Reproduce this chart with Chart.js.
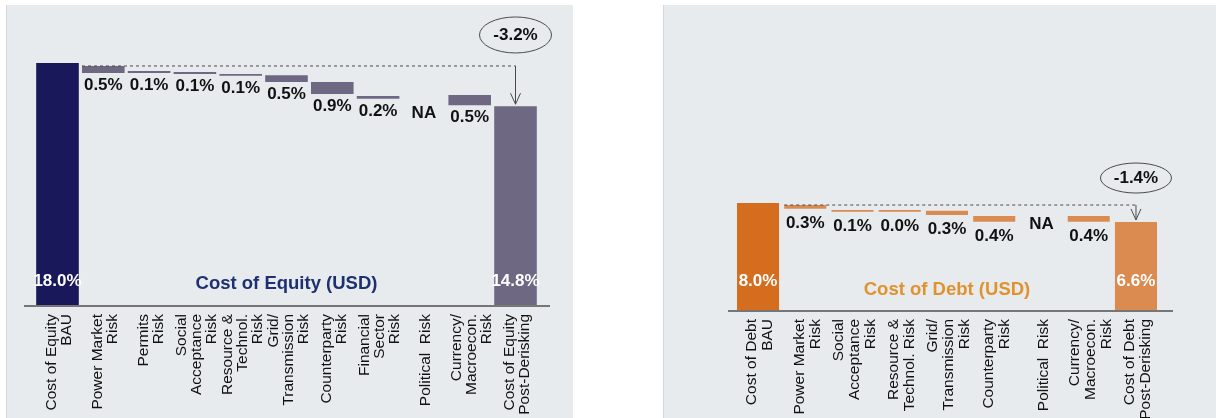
<!DOCTYPE html>
<html>
<head>
<meta charset="utf-8">
<script src="https://cdn.jsdelivr.net/npm/chart.js@4.4.1/dist/chart.umd.min.js"></script>
<style>
html, body { margin: 0; padding: 0; background: #fff; width: 1216px; height: 418px; overflow: hidden; position: relative; }
.panel { position: absolute; top: 5px; height: 413px; background: #e8ebed; border-left: 1px solid #d3d7da; }
#p1 { left: 6px; width: 566px; }
#p2 { left: 663px; width: 553px; }
.box { position: absolute; top: 0; height: 418px; }
#b1 { left: 0; width: 580px; }
#b2 { left: 663px; width: 553px; }
</style>
</head>
<body>
<div class="panel" id="p1"></div>
<div class="panel" id="p2"></div>
<div class="box" id="b1"><canvas id="equityChart"></canvas></div>
<div class="box" id="b2"><canvas id="debtChart"></canvas></div>
<script>
// cost of equity waterfall
const equityCategories = [
    ['Cost of Equity', 'BAU'],
    ['Power Market', 'Risk'],
    ['Permits', 'Risk'],
    ['Social', 'Acceptance', 'Risk'],
    ['Resource &', 'Technol.', 'Risk'],
    ['Grid/', 'Transmission', 'Risk'],
    ['Counterparty', 'Risk'],
    ['Financial', 'Sector', 'Risk'],
    'Political  Risk',
    ['Currency/', 'Macroecon.', 'Risk'],
    ['Cost of Equity', 'Post-Derisking']
];
const equityLow  = [0, 17.26, 17.26, 17.19, 17.06, 16.59, 15.70, 15.36, 15.19, 14.87, 0];
const equityHigh = [18.0, 17.78, 17.41, 17.33, 17.19, 17.09, 16.59, 15.56, 15.19, 15.63, 14.8];
const equityText = ['18.0%', '0.5%', '0.1%', '0.1%', '0.1%', '0.5%', '0.9%', '0.2%', 'NA', '0.5%', '14.8%'];

// cost of debt waterfall
const debtCategories = [
    ['Cost of Debt', 'BAU'],
    ['Power Market', 'Risk'],
    ['Social', 'Acceptance', 'Risk'],
    ['Resource &', 'Technol. Risk'],
    ['Grid/', 'Transmission', 'Risk'],
    ['Counterparty', 'Risk'],
    'Political  Risk',
    ['Currency/', 'Macroecon.', 'Risk'],
    ['Cost of Debt', 'Post-Derisking']
];
const debtLow  = [0, 7.58, 7.36, 7.36, 7.11, 6.61, 7.48, 6.61, 0];
const debtHigh = [8.0, 7.85, 7.48, 7.48, 7.43, 7.04, 7.48, 7.04, 6.6];
const debtText = ['8.0%', '0.3%', '0.1%', '0.0%', '0.3%', '0.4%', 'NA', '0.4%', '6.6%'];

const FONT = '"Liberation Sans", Arial, sans-serif';
Chart.defaults.font.family = FONT;

function waterfallPlugin(o) {
    return {
        id: 'waterfallDecor',
        afterDatasetsDraw(chart) {
            const ctx = chart.ctx;
            const bars = chart.getDatasetMeta(0).data;
            const xs = chart.scales.x;
            const ys = chart.scales.y;
            const y0 = ys.getPixelForValue(0);
            const last = bars.length - 1;

            ctx.save();

            // axis line
            ctx.strokeStyle = '#767676';
            ctx.lineWidth = 2;
            ctx.beginPath();
            ctx.moveTo(o.axisFrom, y0);
            ctx.lineTo(o.axisTo, y0);
            ctx.stroke();

            // dashed reference + arrow
            const yd = ys.getPixelForValue(o.high[1]);
            const xStart = bars[1].x - bars[1].width / 2;
            const xEnd = bars[last].x;
            const yTop = Math.min(bars[last].y, bars[last].base);
            ctx.strokeStyle = '#4a4a4a';
            ctx.lineWidth = 1;
            ctx.setLineDash([3, 3]);
            ctx.beginPath();
            ctx.moveTo(xStart, yd);
            ctx.lineTo(xEnd, yd);
            ctx.stroke();
            ctx.setLineDash([]);
            ctx.beginPath();
            ctx.moveTo(xEnd, yd);
            ctx.lineTo(xEnd, yTop - 2);
            ctx.moveTo(xEnd - 5, yTop - 13);
            ctx.lineTo(xEnd, yTop - 2);
            ctx.lineTo(xEnd + 5, yTop - 13);
            ctx.stroke();

            // delta ellipse
            const ey = yd - o.ellipseUp;
            ctx.beginPath();
            ctx.ellipse(xEnd, ey, o.rx, o.ry, 0, 0, Math.PI * 2);
            ctx.strokeStyle = '#4a4a4a';
            ctx.stroke();
            const delta = (o.high[last] - o.high[0]).toFixed(1) + '%';
            ctx.fillStyle = '#111';
            ctx.font = 'bold 17px ' + FONT;
            ctx.textAlign = 'center';
            ctx.textBaseline = 'middle';
            ctx.fillText(delta, xEnd, ey);

            // value labels
            bars.forEach((bar, i) => {
                if (i === 0 || i === last) {
                    ctx.fillStyle = '#fff';
                    ctx.textBaseline = 'middle';
                    ctx.fillText(o.text[i], bar.x, y0 - o.totalUp);
                } else {
                    const bottom = Math.max(bar.y, bar.base);
                    ctx.fillStyle = '#111';
                    ctx.textBaseline = 'alphabetic';
                    ctx.fillText(o.text[i], bar.x, bottom + o.labelDown);
                }
            });

            // title
            ctx.font = 'bold 18.5px ' + FONT;
            ctx.fillStyle = o.titleColor;
            ctx.textBaseline = 'middle';
            const area = chart.chartArea;
            ctx.fillText(o.title, (area.left + area.right) / 2, y0 - o.titleUp);

            // category labels, rotated
            ctx.font = '15.5px ' + FONT;
            ctx.fillStyle = '#111';
            ctx.textAlign = 'right';
            ctx.textBaseline = 'middle';
            o.categories.forEach((lab, i) => {
                const lines = Array.isArray(lab) ? lab : [lab];
                const n = lines.length;
                ctx.save();
                ctx.translate(xs.getPixelForTick(i) + o.labelShift, y0 + 8);
                ctx.rotate(-Math.PI / 2);
                lines.forEach((ln, j) => ctx.fillText(ln, 0, (j - (n - 1) / 2) * o.lineH));
                ctx.restore();
            });

            ctx.restore();
        }
    };
}

function makeWaterfall(id, o) {
    const colors = o.low.map((v, i) => (i === 0 ? o.totalColor : o.stepColor));
    return new Chart(document.getElementById(id), {
        type: 'bar',
        data: {
            labels: o.categories,
            datasets: [{
                data: o.low.map((v, i) => [v, o.high[i]]),
                backgroundColor: colors,
                borderWidth: 0,
                barPercentage: o.barPct,
                categoryPercentage: 1
            }]
        },
        options: {
            responsive: true,
            maintainAspectRatio: false,
            animation: false,
            layout: { padding: o.padding },
            plugins: { legend: { display: false }, tooltip: { enabled: false } },
            scales: {
                x: {
                    grid: { display: false, drawTicks: false },
                    border: { display: false },
                    ticks: { display: false },
                    afterFit: s => { s.height = o.axisHeight; }
                },
                y: { display: false, min: 0, max: 22 }
            }
        },
        plugins: [waterfallPlugin(o)]
    });
}

makeWaterfall('equityChart', {
    categories: equityCategories, low: equityLow, high: equityHigh, text: equityText,
    totalColor: '#18185a', stepColor: '#6e6882',
    title: 'Cost of Equity (USD)', titleColor: '#1e3070',
    barPct: 0.93,
    padding: { left: 34.6, right: 41.6, top: 9, bottom: 0 },
    axisHeight: 112, axisFrom: 24, axisTo: 550,
    ellipseUp: 31, rx: 36, ry: 18,
    totalUp: 25, labelDown: 17, titleUp: 22,
    labelShift: 2, lineH: 15
});

makeWaterfall('debtChart', {
    categories: debtCategories, low: debtLow, high: debtHigh, text: debtText,
    totalColor: '#d56d1f', stepColor: '#dc8b50',
    title: 'Cost of Debt (USD)', titleColor: '#e0922e',
    barPct: 0.89,
    padding: { left: 71.4, right: 56.4, top: 14, bottom: 0 },
    axisHeight: 107, axisFrom: 65, axisTo: 510,
    ellipseUp: 27, rx: 35.5, ry: 15,
    totalUp: 30, labelDown: 19, titleUp: 21,
    labelShift: 2, lineH: 16
});
</script>
</body>
</html>
